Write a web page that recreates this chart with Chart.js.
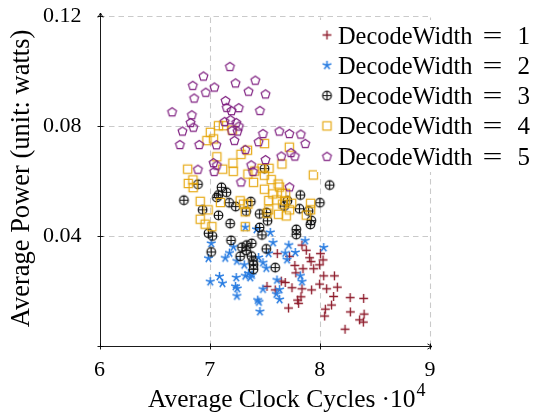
<!DOCTYPE html>
<html><head><meta charset="utf-8">
<script src="https://cdn.jsdelivr.net/npm/chart.js@4.4.0/dist/chart.umd.min.js"></script>
<style>html,body{margin:0;padding:0;background:#fff;}#wrap{width:534px;height:413px;}</style>
</head><body><div id="wrap"><canvas id="c" width="534" height="413"></canvas></div>
<script>
// ---- data (x in units of 10^4 clock cycles, y in watts) ----
const seriesNames = ['DecodeWidth','DecodeWidth','DecodeWidth','DecodeWidth','DecodeWidth'];
const seriesValues = ['1','2','3','4','5'];
const seriesLabels = seriesNames.map((n,i)=>n + ' = ' + seriesValues[i]);
const xTicks = [6,7,8,9];
const yTicks = [0,0.04,0.08,0.12];
const xTitle = 'Average Clock Cycles';
const xTitleFactor = '\u00b710';
const xTitleSup = '4';
const yTitle = 'Average Power (unit: watts)';

const s1X = [7.838,7.877,8.005,8.029,7.614,7.725,7.907,7.920,7.998,7.773,7.847,7.944,7.782,8.035,8.132,7.520,7.595,7.650,7.686,7.998,7.747,7.838,7.925,8.062,8.159,8.125,8.275,8.398,7.829,7.798,7.807,7.716,8.106,8.050,8.044,8.277,8.402,8.361,8.395,8.229];
const s1Y = [0.0367,0.0348,0.0336,0.0313,0.0336,0.0326,0.0321,0.0307,0.0295,0.0293,0.0281,0.0281,0.0266,0.0255,0.0255,0.0217,0.0204,0.0236,0.0231,0.0225,0.0212,0.0208,0.0204,0.0208,0.0214,0.0180,0.0176,0.0173,0.0179,0.0167,0.0155,0.0138,0.0149,0.0134,0.0109,0.0124,0.0116,0.0095,0.0087,0.0061];

const s2X = [7.550,7.323,7.425,7.014,6.989,7.141,7.180,7.216,7.247,7.314,7.444,7.484,7.535,7.575,7.718,7.686,7.777,7.702,7.866,8.035,7.323,7.353,7.384,7.368,7.241,7.089,7.116,7.005,7.235,7.250,7.247,7.484,7.436,7.447,7.456,7.611,7.823,7.838,7.635,7.605,7.635,7.514];
const s2Y = [0.0413,0.0432,0.0424,0.0373,0.0319,0.0320,0.0338,0.0360,0.0309,0.0295,0.0322,0.0303,0.0337,0.0376,0.0367,0.0338,0.0340,0.0314,0.0383,0.0358,0.0255,0.0264,0.0258,0.0249,0.0249,0.0253,0.0228,0.0234,0.0217,0.0209,0.0182,0.0207,0.0167,0.0160,0.0125,0.0240,0.0255,0.0234,0.0205,0.0189,0.0169,0.0283];

const s3X = [7.498,6.894,7.107,7.153,7.080,7.065,6.766,7.177,7.236,7.373,7.332,7.453,7.516,7.525,6.936,7.080,7.186,7.453,7.823,7.706,7.677,7.815,7.898,8.000,8.089,7.923,7.914,7.786,7.786,7.475,6.989,7.025,7.194,7.382,7.336,7.293,7.332,7.514,7.014,7.277,7.379,7.393,7.398,7.398,7.595];
const s3Y = [0.0645,0.0588,0.0577,0.0559,0.0549,0.0540,0.0530,0.0521,0.0507,0.0525,0.0490,0.0480,0.0485,0.0455,0.0495,0.0475,0.0445,0.0431,0.0549,0.0528,0.0509,0.0499,0.0491,0.0521,0.0585,0.0456,0.0442,0.0424,0.0405,0.0404,0.0410,0.0400,0.0384,0.0373,0.0367,0.0359,0.0347,0.0353,0.0342,0.0326,0.0327,0.0309,0.0295,0.0279,0.0285];

const s4X = [7.006,7.080,7.125,7.035,6.975,7.205,7.065,7.284,7.343,7.498,7.723,7.211,7.118,7.214,6.800,6.806,6.848,6.850,7.347,7.398,7.409,7.475,7.539,7.497,7.559,7.656,7.941,7.621,7.635,7.497,7.573,7.655,7.689,7.536,7.607,7.689,7.662,7.744,6.914,7.098,7.277,7.307,7.347,7.323,6.986,6.914,6.959,7.020,7.323,7.536,7.625,7.695,7.725,7.916,7.916,7.877,7.520];
const s4Y = [0.0777,0.0801,0.0801,0.0753,0.0747,0.0785,0.0688,0.0697,0.0712,0.0736,0.0723,0.0665,0.0643,0.0635,0.0643,0.0591,0.0604,0.0576,0.0625,0.0595,0.0636,0.0646,0.0646,0.0621,0.0605,0.0662,0.0622,0.0589,0.0578,0.0570,0.0553,0.0555,0.0555,0.0529,0.0531,0.0528,0.0516,0.0519,0.0526,0.0522,0.0528,0.0516,0.0516,0.0488,0.0495,0.0461,0.0443,0.0434,0.0434,0.0495,0.0479,0.0473,0.0495,0.0519,0.0495,0.0476,0.0483];

const s5X = [7.184,6.944,6.847,7.043,7.235,7.414,6.965,7.353,7.507,6.859,7.144,7.155,7.264,7.198,7.456,6.659,6.838,6.827,6.852,6.753,7.136,7.189,7.241,7.265,7.202,7.253,7.225,6.730,6.905,7.061,7.484,7.444,7.632,7.723,7.827,7.323,7.738,7.773,7.507,7.650,6.893,7.035,7.065,7.041,7.377,7.393,7.284,7.725,7.868];
const s5Y = [0.1017,0.0982,0.0948,0.0942,0.0957,0.0967,0.0923,0.0927,0.0917,0.0902,0.0893,0.0868,0.0867,0.0856,0.0857,0.0852,0.0841,0.0813,0.0796,0.0782,0.0817,0.0823,0.0813,0.0800,0.0784,0.0782,0.0748,0.0733,0.0733,0.0732,0.0773,0.0743,0.0782,0.0773,0.0771,0.0715,0.0704,0.0691,0.0678,0.0691,0.0643,0.0667,0.0658,0.0635,0.0659,0.0635,0.0597,0.0579,0.0737];

const seriesX = [s1X,s2X,s3X,s4X,s5X];
const seriesY = [s1Y,s2Y,s3Y,s4Y,s5Y];

// ---- styles ----
const FONT = "'Liberation Serif', 'Times New Roman', serif";
const markerKinds = ['plus','star','oplus','square','pentagon'];
const markerColors = ['#8e1b2b','#2a7de1','#111111','#e5a50a','#7f1f80'];

function makeMarker(kind, color){
  const c = document.createElement('canvas');
  c.width = 15; c.height = 15;
  const g = c.getContext('2d');
  const o = 7.5;
  g.strokeStyle = color; g.lineWidth = 1.1; g.lineCap = 'butt';
  g.beginPath();
  if (kind === 'plus') {
    g.lineWidth = 1.35;
    g.moveTo(o-4.4,o); g.lineTo(o+4.4,o); g.moveTo(o,o-4.4); g.lineTo(o,o+4.4);
  } else if (kind === 'star') {
    g.lineWidth = 1.5;
    for (let k=0;k<5;k++){ const a=-Math.PI/2+k*2*Math.PI/5; g.moveTo(o,o); g.lineTo(o+4.6*Math.cos(a), o+4.6*Math.sin(a)); }
  } else if (kind === 'oplus') {
    g.lineWidth = 1.2;
    g.arc(o,o,4.3,0,2*Math.PI);
    g.moveTo(o-4.3,o); g.lineTo(o+4.3,o); g.moveTo(o,o-4.3); g.lineTo(o,o+4.3);
  } else if (kind === 'square') {
    g.globalAlpha = 0.9; g.lineWidth = 1.3;
    g.rect(o-4.1,o-4.1,8.2,8.2);
  } else {
    g.lineWidth = 1.2;
    for (let k=0;k<5;k++){ const a=-Math.PI/2+k*2*Math.PI/5; const px=o+4.6*Math.cos(a), py=o+0.5+4.6*Math.sin(a); if(k===0) g.moveTo(px,py); else g.lineTo(px,py); }
    g.closePath();
  }
  g.stroke();
  return c;
}
const markers = markerKinds.map((k,i)=>makeMarker(k, markerColors[i]));

const datasets = seriesLabels.map((lab,i)=>({
  label: lab,
  data: seriesX[i].map((x,j)=>({x:x, y:seriesY[i][j]})),
  pointStyle: markers[i],
  pointRadius: 5,
  showLine: false,
  order: 5 - i
}));

function line(ctx,x1,y1,x2,y2){ ctx.beginPath(); ctx.moveTo(x1,y1); ctx.lineTo(x2,y2); ctx.stroke(); }

const gridPlugin = {
  id: 'pgfgrid',
  beforeDatasetsDraw(chart){
    const {ctx, scales:{x,y}, chartArea:a} = chart;
    ctx.save();
    ctx.strokeStyle = '#cacaca'; ctx.lineWidth = 1.1; ctx.setLineDash([5.5,4]);
    xTicks.slice(1).forEach(v=>{ const px=Math.round(x.getPixelForValue(v))+0.5; line(ctx,px,a.bottom,px,a.top); });
    yTicks.slice(1).forEach(v=>{ const py=Math.round(y.getPixelForValue(v))+0.5; line(ctx,a.left,py,a.right,py); });
    ctx.restore();
  },
  afterDatasetsDraw(chart){
    const {ctx, scales:{x,y}, chartArea:a} = chart;
    ctx.save();
    ctx.strokeStyle = '#000'; ctx.lineWidth = 0.9; ctx.setLineDash([]);
    const L = Math.round(a.left)+0.5, B = Math.round(a.bottom)+0.5;
    const T = a.top - 3, R = a.right + 2;
    line(ctx,L,B,L,T); line(ctx,L,B,R,B);
    line(ctx,L-2.6,T+4.5,L,T); line(ctx,L+2.6,T+4.5,L,T);
    line(ctx,R-4.5,B-2.6,R,B); line(ctx,R-4.5,B+2.6,R,B);
    xTicks.forEach(v=>{ const px=Math.round(x.getPixelForValue(v))+0.5; line(ctx,px,B-3,px,B+3); });
    yTicks.forEach(v=>{ const py=Math.round(y.getPixelForValue(v))+0.5; line(ctx,L-3,py,L+3,py); });
    ctx.restore();

    // x axis title
    ctx.save();
    ctx.fillStyle = '#000';
    ctx.font = "25.5px " + FONT;
    ctx.textBaseline = 'alphabetic'; ctx.textAlign = 'left';
    ctx.fillText(xTitle, 148, 406.5);
    let w = ctx.measureText(xTitle).width;
    ctx.fillText(xTitleFactor, 148 + w + 6, 406.5);
    w += 6 + ctx.measureText(xTitleFactor).width;
    ctx.font = "18px " + FONT;
    ctx.fillText(xTitleSup, 148 + w + 1, 396);
    ctx.restore();

    // y axis title
    ctx.save();
    ctx.fillStyle = '#000';
    ctx.font = "26.5px " + FONT;
    ctx.translate(22, 178.5);
    ctx.rotate(-Math.PI/2);
    ctx.textAlign = 'center'; ctx.textBaseline = 'middle';
    ctx.fillText(yTitle, 0, 0);
    ctx.restore();

    // legend
    ctx.save();
    ctx.fillStyle = '#fff';
    ctx.fillRect(317, 20, 217, 152);
    ctx.fillStyle = '#000';
    ctx.textAlign = 'left'; ctx.textBaseline = 'alphabetic';
    seriesLabels.forEach((lab,i)=>{
      const cy = 35 + i*30.3;
      const m = markers[i];
      ctx.drawImage(m, 327 - m.width/2, cy - m.height/2);
      ctx.font = "24.4px " + FONT;
      ctx.fillText(seriesNames[i], 338, cy + 8.5);
      ctx.save();
      ctx.translate(482.5, cy + 8.5);
      ctx.scale(1.45, 1);
      ctx.fillText('=', 0, 0);
      ctx.restore();
      ctx.font = "25px " + FONT;
      ctx.fillText(seriesValues[i], 517.5, cy + 8.5);
    });
    ctx.restore();
  }
};

new Chart(document.getElementById('c'), {
  type: 'scatter',
  data: { datasets },
  options: {
    responsive: false,
    animation: false,
    events: [],
    layout: { padding: { left: 0, right: 104, top: 16, bottom: 0 } },
    plugins: { legend: { display: false }, tooltip: { enabled: false } },
    scales: {
      x: {
        type: 'linear', min: xTicks[0], max: xTicks[xTicks.length-1],
        afterBuildTicks(s){ s.ticks = xTicks.map(v=>({value:v})); },
        ticks: { color:'#000', font:{family:FONT, size:22}, padding: 11, maxRotation:0, callback:v=>String(v) },
        grid: { display:false, drawTicks:false },
        border: { display:false },
        afterFit(s){ s.height = 67; s.paddingLeft = 0; s.paddingRight = 0; }
      },
      y: {
        type: 'linear', min: yTicks[0], max: yTicks[yTicks.length-1],
        afterBuildTicks(s){ s.ticks = yTicks.map(v=>({value:v})); },
        ticks: { color:'#000', font:{family:FONT, size:22}, padding: 18, callback:v=> v===0 ? '' : v.toFixed(2) },
        grid: { display:false, drawTicks:false },
        border: { display:false },
        afterFit(s){ s.width = 99.5; s.paddingTop = 0; s.paddingBottom = 0; }
      }
    }
  },
  plugins: [gridPlugin]
});
</script>
</body></html>
